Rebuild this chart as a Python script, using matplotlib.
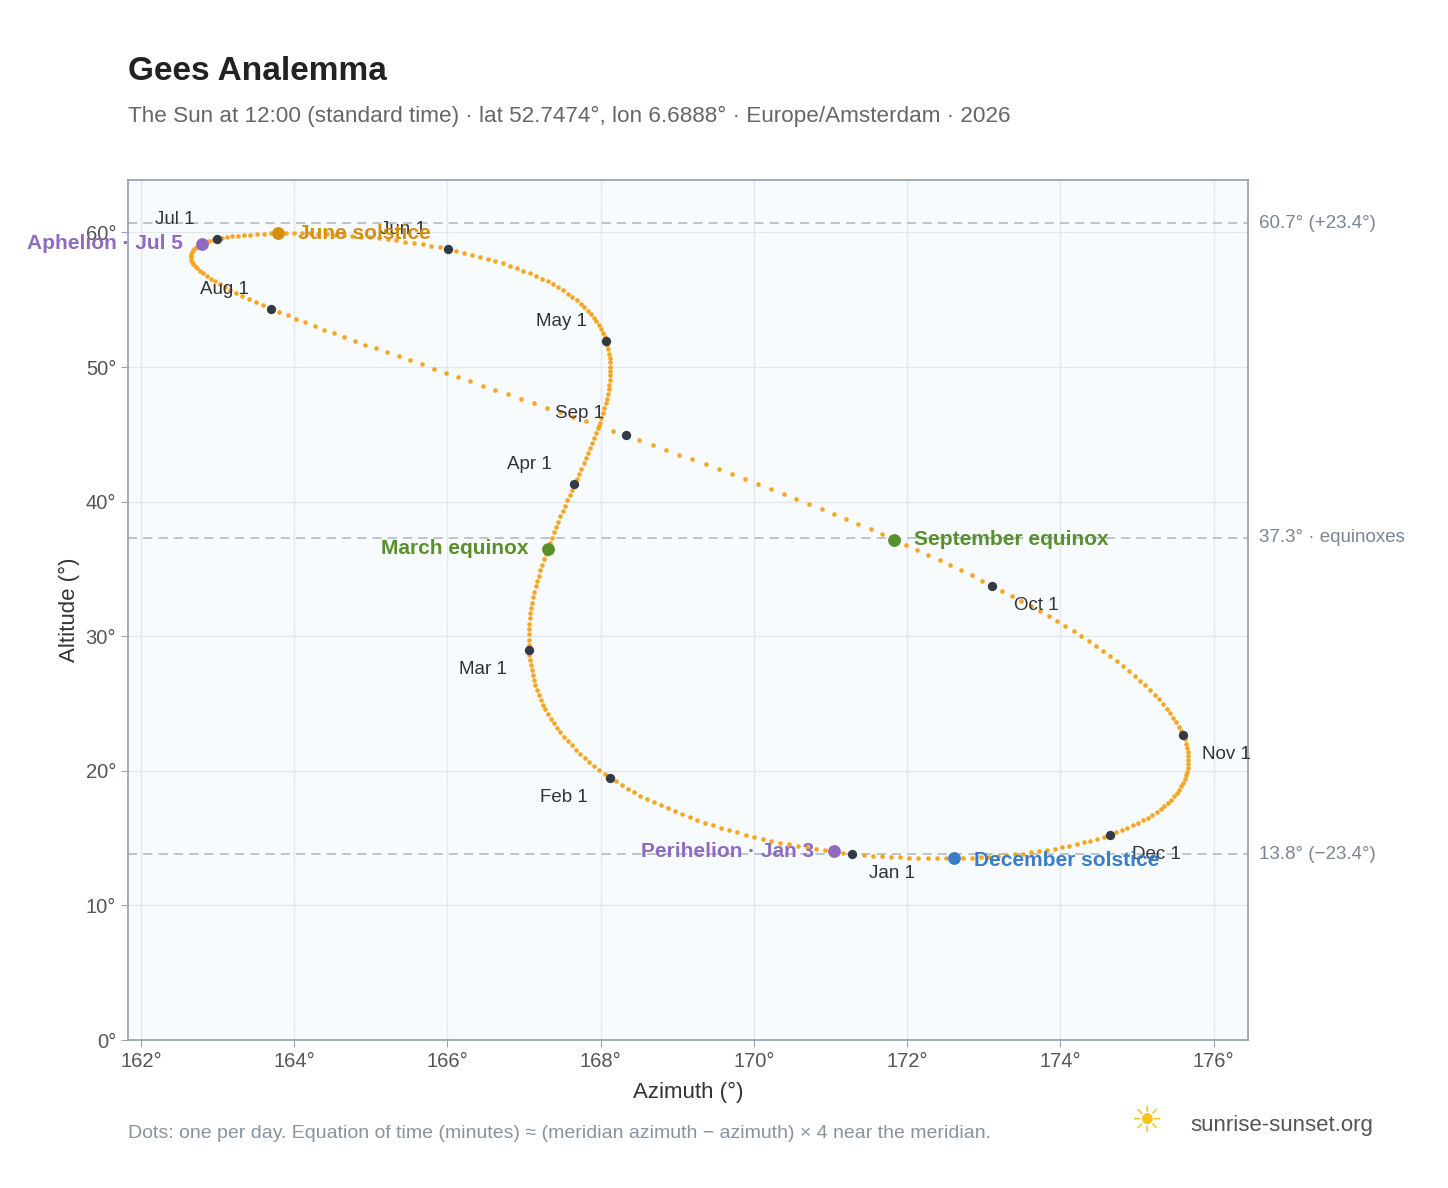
import numpy as np
import matplotlib
matplotlib.use("Agg")
import matplotlib.pyplot as plt
import datetime as dt
plt.rcParams['font.family'] = ['Liberation Sans', 'DejaVu Sans']

LAT, LON, TZ = 52.7474, 6.6888, 1.0
YEAR = 2026
month_labels = ["Jan 1","Feb 1","Mar 1","Apr 1","May 1","Jun 1","Jul 1","Aug 1","Sep 1","Oct 1","Nov 1","Dec 1"]
events = [("March equinox", (3, 20), "#5a8f2e"), ("June solstice", (6, 21), "#d4900a"),
          ("September equinox", (9, 22), "#5a8f2e"), ("December solstice", (12, 21), "#3b7dc4"),
          ("Aphelion · Jul 5", (7, 5), "#8e6bbf"), ("Perihelion · Jan 3", (1, 3), "#8e6bbf")]
ref_lines = [60.7, 37.3, 13.8]
ref_labels = ["60.7° (+23.4°)", "37.3° · equinoxes", "13.8° (−23.4°)"]

def sunpos(d):
    # NOAA solar position at 12:00 standard time
    jd = (d - dt.datetime(2000, 1, 1, 12)).total_seconds() / 86400 + 2451545.0 - TZ / 24
    T = (jd - 2451545.0) / 36525
    L0 = (280.46646 + T * (36000.76983 + 0.0003032 * T)) % 360
    M = 357.52911 + T * (35999.05029 - 0.0001537 * T)
    e = 0.016708634 - T * (0.000042037 + 0.0000001267 * T)
    Mr = np.radians(M)
    C = (np.sin(Mr) * (1.914602 - T * (0.004817 + 0.000014 * T)) + np.sin(2 * Mr) * (0.019993 - 0.000101 * T)
         + np.sin(3 * Mr) * 0.000289)
    lam = L0 + C - 0.00569 - 0.00478 * np.sin(np.radians(125.04 - 1934.136 * T))
    eps = 23 + (26 + (21.448 - T * (46.815 + T * (0.00059 - T * 0.001813))) / 60) / 60
    eps += 0.00256 * np.cos(np.radians(125.04 - 1934.136 * T))
    decl = np.degrees(np.arcsin(np.sin(np.radians(eps)) * np.sin(np.radians(lam))))
    y = np.tan(np.radians(eps / 2)) ** 2
    L0r = np.radians(L0)
    eot = 4 * np.degrees(y * np.sin(2 * L0r) - 2 * e * np.sin(Mr) + 4 * e * y * np.sin(Mr) * np.cos(2 * L0r)
                         - 0.5 * y * y * np.sin(4 * L0r) - 1.25 * e * e * np.sin(2 * Mr))
    tst = 12 * 60 + eot + 4 * LON - 60 * TZ
    ha = np.radians(tst / 4 - 180)
    la, de = np.radians(LAT), np.radians(decl)
    cz = np.sin(la) * np.sin(de) + np.cos(la) * np.cos(de) * np.cos(ha)
    zen = np.arccos(cz)
    az = np.degrees(np.arctan2(np.sin(ha), np.cos(ha) * np.sin(la) - np.tan(de) * np.cos(la))) + 180
    return az, 90 - np.degrees(zen)

days = [dt.datetime(YEAR, 1, 1, 12) + dt.timedelta(days=i) for i in range(365)]
pts = np.array([sunpos(d) for d in days])

fig = plt.figure(figsize=(14.48, 11.88), dpi=100)
ax = fig.add_axes([128/1448, 1-1040/1188, 1120/1448, 860/1188])
ax.set_facecolor("#f8fbfd")
ax.set_xlim(161.83, 176.45); ax.set_ylim(0, 63.9)
ax.set_xticks(range(162, 177, 2)); ax.set_xticklabels([f"{v}°" for v in range(162, 177, 2)])
ax.set_yticks(range(0, 61, 10)); ax.set_yticklabels([f"{v}°" for v in range(0, 61, 10)])
ax.grid(color="#e3e8ee", lw=1); ax.set_axisbelow(True)
for s in ax.spines.values(): s.set_color("#9aa5b1"); s.set_linewidth(1.3)
ax.tick_params(colors="#555", labelsize=14.5, length=5, color="#9aa5b1")
ax.set_xlabel("Azimuth (°)", fontsize=16, color="#333", labelpad=8)
ax.set_ylabel("Altitude (°)", fontsize=16, color="#333")

for yv, lb in zip(ref_lines, ref_labels):
    ax.axhline(yv, color="#aab6c0", ls=(0, (6, 4)), lw=1.1)
    ax.text(1.01, yv, lb, transform=ax.get_yaxis_transform(), va="center", fontsize=13.5, color="#7a8591")

ax.scatter(pts[:, 0], pts[:, 1], s=11, color="#f5a623", zorder=3, lw=0)

moffs = [(12, -14, "left"), (-16, -14, "right"), (-16, -14, "right"), (-16, 14, "right"), (-14, 14, "right"),
         (-16, 14, "right"), (-16, 14, "right"), (-16, 14, "right"), (-16, 16, "right"), (16, -14, "left"),
         (14, -14, "left"), (16, -14, "left")]
for m in range(12):
    i = (dt.datetime(YEAR, m + 1, 1) - dt.datetime(YEAR, 1, 1)).days
    ax.scatter(*pts[i], s=45, color="#333a44", zorder=4, lw=0)
    ox, oy, ha = moffs[m]
    ax.annotate(month_labels[m], pts[i], xytext=(ox, oy), textcoords="offset points", ha=ha, va="center",
                fontsize=13.5, color="#333")

eoffs = [(-14, 0, "right"), (14, 0, "left"), (14, 0, "left"), (14, -2, "left"), (-14, 0, "right"), (-14, 0, "right")]
for (lb, (mo, da), c), (ox, oy, ha) in zip(events, eoffs):
    i = (dt.datetime(YEAR, mo, da) - dt.datetime(YEAR, 1, 1)).days
    ax.scatter(*pts[i], s=85, color=c, zorder=5, lw=0)
    ax.annotate(lb, pts[i], xytext=(ox, oy), textcoords="offset points", ha=ha, va="center",
                fontsize=15, color=c, fontweight="bold")

fig.text(128/1448, 1-72/1188, "Gees Analemma", fontsize=24, fontweight="bold", color="#222", va="center")
fig.text(128/1448, 1-116/1188, "The Sun at 12:00 (standard time) · lat 52.7474°, lon 6.6888° · Europe/Amsterdam · 2026",
         fontsize=16.2, color="#666", va="center")
fig.text(128/1448, 1-1133/1188, "Dots: one per day. Equation of time (minutes) ≈ (meridian azimuth − azimuth) × 4 near the meridian.",
         fontsize=14, color="#8a939c", va="center")
fig.text(1190/1448, 1-1125/1188, "sunrise-sunset.org", fontsize=16, color="#555", va="center")
fig.text(1146/1448, 1-1122/1188, "☀", fontsize=26, color="#f5c518", va="center", ha="center", family="DejaVu Sans")
fig.savefig("out.png", dpi=100)
